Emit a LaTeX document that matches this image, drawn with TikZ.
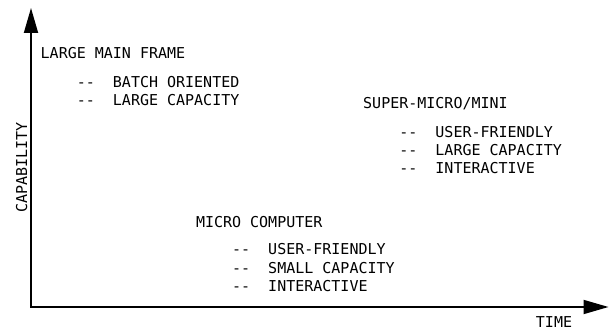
\documentclass[tikz,border=0pt]{standalone}
\usepackage{fontspec}
\setmonofont{DejaVu Sans Mono}
\usetikzlibrary{arrows.meta}
\newcommand\itm[1]{\hphantom{XXXX}-\kern0pt-\hphantom{XX}#1}
\tikzset{
  lbl/.style={font=\ttfamily\fontsize{15}{18}\selectfont, align=left, inner sep=0pt, anchor=base west},
  axislbl/.style={font=\ttfamily\fontsize{15}{18}\selectfont, inner sep=0pt, anchor=base},
  axis/.style={line width=1.8pt, line join=miter, {Triangle[length=25pt,width=14pt]}-{Triangle[length=25pt,width=14pt]}}
}
\begin{document}
\begin{tikzpicture}[x=1pt,y=1pt]
\useasboundingbox (0,0) rectangle (609,331);
\coordinate (ytop) at (31,323);
\coordinate (origin) at (31,24);
\coordinate (xend) at (608.5,24);
\draw[axis] (ytop) -- (origin) -- (xend);
\node[axislbl, rotate=90] (cap) at (27,163.5) {CAPABILITY};
\node[axislbl] (time) at (554,3.5) {TIME};
\node[lbl] (lmf) at (40.5,225) {LARGE MAIN FRAME\\[11pt]\itm{BATCH ORIENTED}\\\itm{LARGE CAPACITY}};
\node[lbl] (smm) at (363,157) {SUPER-MICRO/MINI\\[11pt]\itm{USER-FRIENDLY}\\\itm{LARGE CAPACITY}\\\itm{INTERACTIVE}};
\node[lbl, font=\ttfamily\fontsize{15}{18.5}\selectfont] (mc) at (195.8,39) {MICRO COMPUTER\\[8.5pt]\itm{USER-FRIENDLY}\\\itm{SMALL CAPACITY}\\\itm{INTERACTIVE}};
\end{tikzpicture}
\end{document}
